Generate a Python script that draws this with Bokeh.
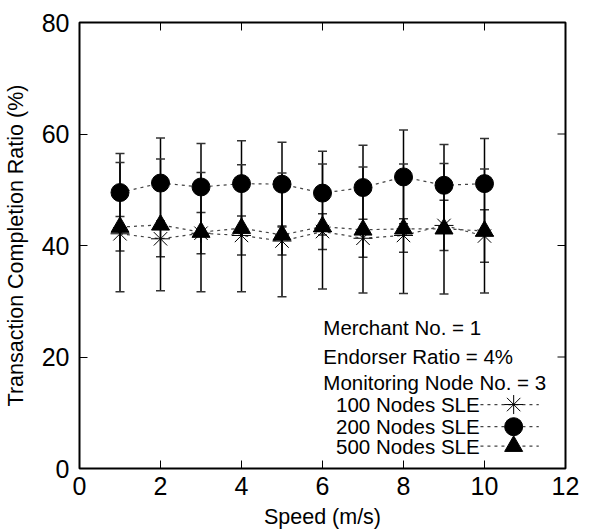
import math
from bokeh.plotting import figure
from bokeh.models import (ColumnDataSource, Whisker, TeeHead, Range1d,
                          FixedTicker, Label)
from bokeh.embed import file_html
from bokeh.resources import INLINE

# ---- data -----------------------------------------------------------------
speed = [1, 2, 3, 4, 5, 6, 7, 8, 9, 10]

sle100 = [42.1, 41.2, 42.2, 41.8, 40.8, 42.5, 41.3, 41.8, 43.6, 41.7]
sle100_err = [3.1, 3.2, 3.7, 3.5, 2.5, 3.2, 3.4, 3.0, 4.5, 4.7]

sle200 = [49.5, 51.2, 50.5, 51.1, 51.0, 49.4, 50.4, 52.3, 50.8, 51.1]
sle200_err = [7.0, 8.1, 7.8, 7.7, 7.5, 7.5, 7.6, 8.4, 7.3, 8.1]

sle500 = [43.3, 43.7, 42.4, 43.1, 41.9, 43.4, 42.8, 43.0, 43.0, 42.6]
sle500_err = [11.6, 11.8, 10.7, 11.4, 11.1, 11.2, 11.3, 11.6, 11.7, 11.1]

series_names = ["100 Nodes SLE", "200 Nodes SLE", "500 Nodes SLE"]
x_ticks = [0, 2, 4, 6, 8, 10, 12]
y_ticks = [0, 20, 40, 60, 80]
notes = ["Merchant No. = 1", "Endorser Ratio = 4%", "Monitoring Node No. = 3"]

X_MIN, X_MAX = 0, 12
Y_MIN, Y_MAX = 0, 80
FONT = "Liberation Sans"

# ---- figure ---------------------------------------------------------------
p = figure(frame_width=486, frame_height=446,
           min_border_left=74, min_border_right=15,
           min_border_top=22, min_border_bottom=48,
           x_range=Range1d(X_MIN, X_MAX), y_range=Range1d(Y_MIN, Y_MAX),
           output_backend="svg", toolbar_location=None,
           background_fill_color="white", border_fill_color="white")
p.xgrid.visible = False
p.ygrid.visible = False
p.outline_line_color = "black"
p.outline_line_width = 2

def style_axis(ax, ticks):
    ax.ticker = FixedTicker(ticks=ticks)
    ax.axis_line_color = None
    ax.major_tick_in = 8
    ax.major_tick_out = 0
    ax.minor_tick_line_color = None
    ax.major_tick_line_color = "black"
    ax.major_tick_line_width = 1
    ax.major_label_text_font = FONT
    ax.major_label_text_font_size = "25px"
    ax.major_label_text_color = "black"
    ax.axis_label_text_font = FONT
    ax.axis_label_text_font_size = "21.5px"
    ax.axis_label_text_font_style = "normal"
    ax.axis_label_text_color = "black"

xa = p.xaxis[0]
ya = p.yaxis[0]
style_axis(xa, x_ticks)
style_axis(ya, y_ticks)
xa.axis_label = "Speed (m/s)"
ya.axis_label = "Transaction Completion Ratio (%)"
xa.major_label_standoff = 8
xa.axis_label_standoff = 7
ya.major_label_standoff = 10
ya.axis_label_standoff = 11

# mirrored inward ticks on the top and right edges of the frame
p.ray(x=x_ticks, y=[Y_MAX] * len(x_ticks), length=8, length_units="screen",
      angle=-math.pi / 2, line_color="black", line_width=1)
p.ray(x=[X_MAX] * len(y_ticks), y=y_ticks, length=8, length_units="screen",
      angle=math.pi, line_color="black", line_width=1)

# ---- series ---------------------------------------------------------------
LINE_COLOR = "#444444"

def add_series(ys, errs, marker):
    src = ColumnDataSource(dict(
        x=speed, y=ys,
        lo=[a - b for a, b in zip(ys, errs)],
        hi=[a + b for a, b in zip(ys, errs)]))
    p.line("x", "y", source=src, line_color=LINE_COLOR, line_width=1.2,
           line_dash="3 4")
    w = Whisker(base="x", lower="lo", upper="hi", source=src,
                line_color="black", line_width=1.5,
                upper_head=TeeHead(size=9, line_color="#333333", line_width=1.5),
                lower_head=TeeHead(size=9, line_color="#333333", line_width=1.5))
    p.add_layout(w)
    if marker == "asterisk":
        p.scatter("x", "y", source=src, marker="x", size=19,
                  line_color="black", line_width=1)
        p.scatter("x", "y", source=src, marker="cross", size=19,
                  line_color="black", line_width=1)
    else:
        p.scatter("x", "y", source=src, marker=marker, size=18,
                  fill_color="black", line_color="black")

add_series(sle100, sle100_err, "asterisk")
add_series(sle200, sle200_err, "circle")
add_series(sle500, sle500_err, "triangle")

# ---- notes and key --------------------------------------------------------
note_x = 6.02
note_y = [25.27, 20.1, 15.4]
for t, yy in zip(notes, note_y):
    p.add_layout(Label(x=note_x, y=yy, text=t, text_font=FONT,
                       text_font_size="20.5px", text_baseline="middle",
                       text_align="left", text_color="black"))

key_text_x = 9.88
key_line = [9.9, 11.34]
key_mark_x = 10.72
key_y = [11.47, 7.5, 4.0]
key_markers = ["asterisk", "circle", "triangle"]
for name, yy, mk in zip(series_names, key_y, key_markers):
    p.add_layout(Label(x=key_text_x, y=yy, text=name, text_font=FONT,
                       text_font_size="20.5px", text_baseline="middle",
                       text_align="right", text_color="black"))
    p.line(key_line, [yy, yy], line_color=LINE_COLOR, line_width=1.2,
           line_dash="3 4")
    if mk == "asterisk":
        p.scatter([key_mark_x], [yy], marker="x", size=19, line_color="black")
        p.scatter([key_mark_x], [yy], marker="cross", size=19, line_color="black")
    else:
        p.scatter([key_mark_x], [yy], marker=mk, size=18,
                  fill_color="black", line_color="black")

open("out.html", "w").write(file_html(p, INLINE))
